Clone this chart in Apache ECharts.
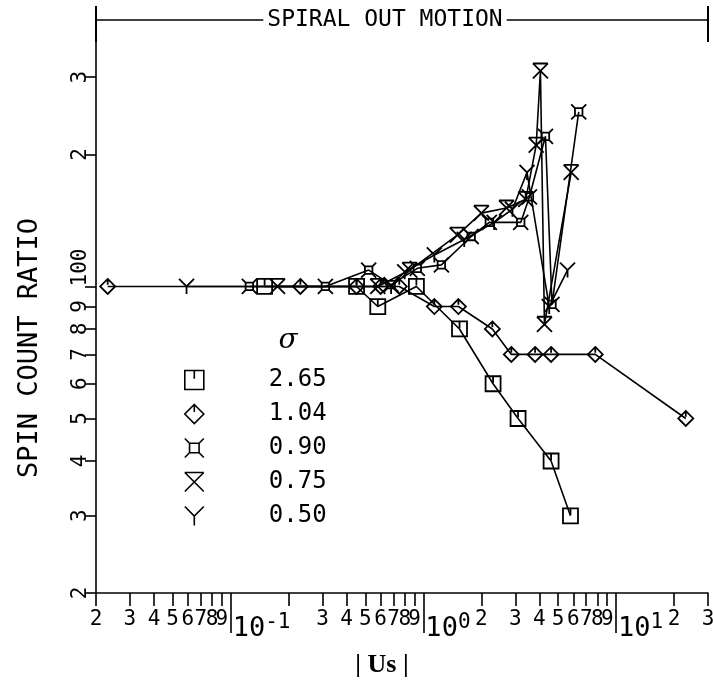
<!DOCTYPE html>
<html><head><meta charset="utf-8">
<script src="https://cdn.jsdelivr.net/npm/echarts@6/dist/echarts.min.js"></script>
<style>html,body{margin:0;padding:0;background:#fff}#c{width:713px;height:686px}</style>
</head><body><div id="c"></div>
<script>
// ---- data ----
const seriesNames = ['2.65', '1.04', '0.90', '0.75', '0.50'];
const sq_x = [0.15, 0.45, 0.58, 0.92, 1.54, 2.3, 3.1, 4.6, 5.8];
const sq_y = [1.0, 1.0, 0.9, 1.0, 0.8, 0.6, 0.5, 0.4, 0.3];
const dm_x = [0.023, 0.23, 0.45, 0.6, 0.75, 1.14, 1.52, 2.28, 2.86, 3.8, 4.6, 7.8, 23];
const dm_y = [1, 1, 1, 1, 1, 0.9, 0.9, 0.8, 0.7, 0.7, 0.7, 0.7, 0.5];
const cr_x = [0.125, 0.31, 0.52, 0.68, 0.93, 1.24, 1.77, 2.2, 3.2, 3.55, 4.3, 4.65, 6.4];
const cr_y = [1, 1, 1.09, 1.01, 1.1, 1.12, 1.3, 1.4, 1.4, 1.6, 2.2, 0.91, 2.5];
const xx_x = [0.175, 0.58, 0.85, 1.5, 2.0, 2.7, 3.4, 3.85, 4.05, 4.25, 5.85];
const xx_y = [1, 1, 1.09, 1.31, 1.47, 1.51, 1.58, 2.1, 3.1, 0.82, 1.82];
const yy_x = [0.059, 0.68, 0.8, 1.14, 1.63, 2.33, 2.9, 3.45, 4.5, 5.6];
const yy_y = [1, 1, 1.08, 1.18, 1.28, 1.4, 1.5, 1.82, 0.9, 1.09];

const xMinorTicks = [0.02,0.03,0.04,0.05,0.06,0.07,0.08,0.09,0.2,0.3,0.4,0.5,0.6,0.7,0.8,0.9,2,3,4,5,6,7,8,9,20,30];
const xMinorLabels = ['2','3','4','5','6','7','8','9','','3','4','5','6','7','8','9','2','3','4','5','6','7','8','9','2','3'];
const xMajorTicks = [0.1, 1, 10];
const xMajorLabels = ['{a|10}{b|-1}', '{a|10}{b|0}', '{a|10}{b|1}'];
const yMinorTicks = [0.2,0.3,0.4,0.5,0.6,0.7,0.8,0.9,2,3];
const yMinorLabels = ['2','3','4','5','6','7','8','9','2','3'];
const yMajorTicks = [1];
const yMajorLabels = ['100'];

// ---- styling ----
const FONT = 'DejaVu Sans Mono';
const symbols = [
  'path://M2 2H18V18H2Z M10 2V9',
  'path://M10 1L19 10L10 19L1 10Z M10 1V8',
  'path://M5 5H15V15H5Z M5 5L0 0 M15 5L20 0 M15 15L20 20 M5 15L0 20',
  'path://M0 0H20 M0 0L20 20 M20 0L0 20',
  'path://M0 0L10 10L20 0 M10 10V20'
];
const xs = [sq_x, dm_x, cr_x, xx_x, yy_x];
const ys = [sq_y, dm_y, cr_y, xx_y, yy_y];

function lookup(ticks, labels) {
  return function (v) {
    for (let i = 0; i < ticks.length; i++) {
      if (Math.abs(v - ticks[i]) / ticks[i] < 1e-6) return labels[i];
    }
    return '';
  };
}
const black = {color: '#000', width: 1.6};

const series = seriesNames.map((n, i) => ({
  name: n,
  type: 'line',
  xAxisIndex: 0, yAxisIndex: 0,
  data: xs[i].map((x, j) => [x, ys[i][j]]),
  symbol: symbols[i],
  symbolSize: 15,
  showAllSymbol: true,
  lineStyle: {color: '#000', width: 1.6},
  itemStyle: {color: 'rgba(0,0,0,0)', borderColor: '#000', borderWidth: 1.8},
  emphasis: {disabled: true},
  silent: true,
  animation: false
}));

const chart = echarts.init(document.getElementById('c'));
chart.setOption({
  animation: false,
  backgroundColor: '#fff',
  grid: {left: 96, right: 5, top: 10, bottom: 93, outerBoundsMode: 'none', containLabel: false},
  xAxis: [{
    type: 'log', logBase: 10, min: 0.02, max: 30, position: 'bottom',
    axisLine: {show: true, lineStyle: black},
    axisTick: {show: true, customValues: xMinorTicks, length: 13, lineStyle: black},
    axisLabel: {customValues: xMinorTicks.filter((v, i) => xMinorLabels[i] !== ''),
      formatter: lookup(xMinorTicks, xMinorLabels), fontFamily: FONT, fontSize: 21, color: '#000', margin: 16},
    splitLine: {show: false}, minorTick: {show: false}
  }, {
    type: 'log', logBase: 10, min: 0.02, max: 30, position: 'bottom',
    axisLine: {show: false},
    axisTick: {show: true, customValues: xMajorTicks, length: 40, lineStyle: black},
    axisLabel: {customValues: xMajorTicks, formatter: lookup(xMajorTicks, xMajorLabels), align: 'left',
      margin: 14, color: '#000', padding: [0, 0, 0, 2],
      rich: {a: {fontFamily: FONT, fontSize: 27, color: '#000', padding: [8, 0, 0, 0]},
             b: {fontFamily: FONT, fontSize: 21, color: '#000', padding: [0, 0, 4, 0]}}},
    splitLine: {show: false}
  }],
  yAxis: [{
    type: 'log', logBase: 10, min: 0.2, max: 4.27, position: 'left',
    axisLine: {show: true, lineStyle: black},
    axisTick: {show: true, customValues: yMinorTicks, length: 11, lineStyle: black},
    axisLabel: {customValues: yMinorTicks, formatter: lookup(yMinorTicks, yMinorLabels), rotate: 90,
      fontFamily: FONT, fontSize: 21, color: '#000', margin: 5},
    splitLine: {show: false}
  }, {
    type: 'log', logBase: 10, min: 0.2, max: 4.27, position: 'left',
    axisLine: {show: false},
    axisTick: {show: true, customValues: yMajorTicks, length: 11, lineStyle: black},
    axisLabel: {customValues: yMajorTicks, formatter: lookup(yMajorTicks, yMajorLabels), rotate: 90,
      align: 'left', fontFamily: FONT, fontSize: 21, color: '#000', margin: 5},
    splitLine: {show: false}
  }],
  legend: {
    orient: 'vertical', left: 179, top: 363, itemWidth: 19, itemHeight: 19, itemGap: 10,
    selectedMode: false,
    data: seriesNames.map((n, i) => ({name: n, icon: symbols[i]})),
    itemStyle: {color: 'rgba(0,0,0,0)', borderColor: '#000', borderWidth: 1.6},
    textStyle: {fontFamily: FONT, fontSize: 24, color: '#000', padding: [0, 0, 0, 60]}
  },
  graphic: [
    {type: 'line', shape: {x1: 96, y1: 20, x2: 708, y2: 20}, style: {stroke: '#000', lineWidth: 1.5}, silent: true},
    {type: 'line', shape: {x1: 96, y1: 6, x2: 96, y2: 42}, style: {stroke: '#000', lineWidth: 2}, silent: true},
    {type: 'line', shape: {x1: 708, y1: 6, x2: 708, y2: 42}, style: {stroke: '#000', lineWidth: 2}, silent: true},
    {type: 'text', x: 385, y: 20, silent: true,
      style: {text: 'SPIRAL OUT MOTION', fontFamily: FONT, fontSize: 23, fill: '#000', align: 'center',
        verticalAlign: 'middle', backgroundColor: '#fff', padding: [2, 4]}},
    {type: 'text', x: 30, y: 348, rotation: Math.PI / 2, silent: true,
      style: {text: 'SPIN COUNT RATIO', fontFamily: FONT, fontSize: 27, fill: '#000', align: 'center', verticalAlign: 'middle'}},
    {type: 'text', x: 382, y: 665, silent: true,
      style: {text: '| Us |', fontFamily: 'Liberation Serif', fontWeight: 'bold', fontSize: 26, fill: '#000', align: 'center', verticalAlign: 'middle'}},
    {type: 'text', x: 288, y: 341, silent: true,
      style: {text: 'σ', fontFamily: 'DejaVu Serif', fontStyle: 'italic', fontSize: 28, fill: '#000', align: 'center', verticalAlign: 'middle'}}
  ],
  series: series
});
</script></body></html>
